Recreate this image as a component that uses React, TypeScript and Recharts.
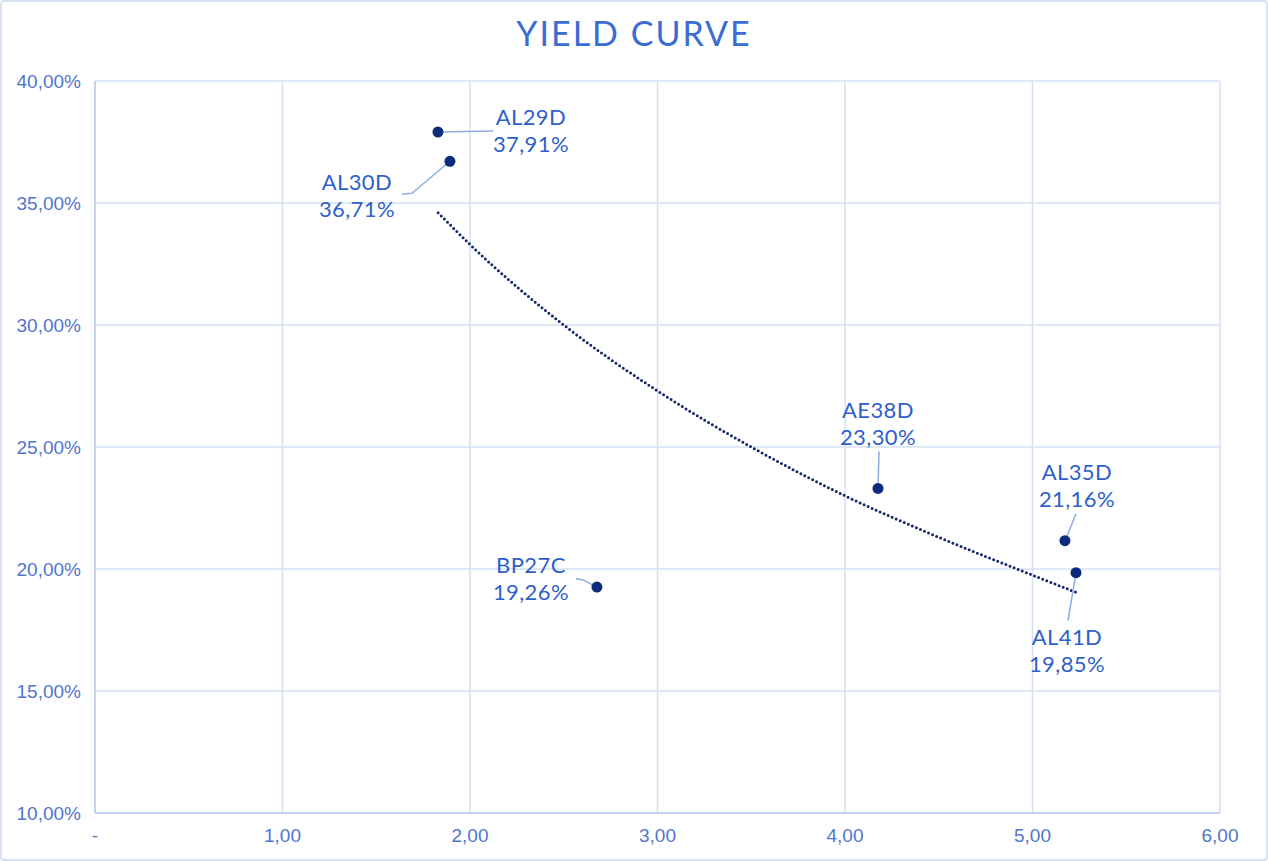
import React from "react";
import {
  ComposedChart,
  Scatter,
  Line,
  XAxis,
  YAxis,
  CartesianGrid,
} from "recharts";

// bonds: duration (x) vs yield % (y)
const bondNames = ["AL29D", "AL30D", "BP27C", "AE38D", "AL35D", "AL41D"];
const bondDuration = [1.829, 1.893, 2.677, 4.176, 5.173, 5.232];
const bondYield = [37.91, 36.71, 19.26, 23.3, 21.16, 19.85];

// dotted trend curve
const trendDuration = [1.83, 2.0, 2.5, 3.0, 3.5, 4.0, 4.5, 5.0, 5.23];
const trendYield = [34.6, 33.3, 30.0, 27.3, 25.0, 23.0, 21.3, 19.75, 19.05];

const xTicks = [0, 1, 2, 3, 4, 5, 6];
const yTicks = [10, 15, 20, 25, 30, 35, 40];

const bonds = bondNames.map((name, i) => ({
  name,
  x: bondDuration[i],
  y: bondYield[i],
}));
const trend = trendDuration.map((x, i) => ({ x, y: trendYield[i] }));

const TEXT_BLUE = "#2f5fcb";
const LEADER = "#8eaee2";
const DOT = "#0b2c7c";
const GRID = "#d5e0f3";
const AXIS = "#bccdee";

// label placement relative to each point: text centre + leader path
const labelLayout: Record<string, { dx: number; dy: number; leader: string }> = {
  AL29D: { dx: 93, dy: -16, leader: "M 0 0 L 55 -1" },
  AL30D: { dx: -93, dy: 20, leader: "M 0 0 L -38 32 L -48 33" },
  BP27C: { dx: -66, dy: -23, leader: "M -21 -8 Q -13 -8 -6 -3 L 0 0" },
  AE38D: { dx: 0, dy: -79, leader: "M 1 -37 L 0 0" },
  AL35D: { dx: 12, dy: -70, leader: "M 11 -27 L 1 -2" },
  AL41D: { dx: -9, dy: 63, leader: "M 0 0 L -8 48" },
};

const fmt = (v: number) => v.toFixed(2).replace(".", ",");

function BondPoint(props: any) {
  const { cx, cy, payload } = props;
  const l = labelLayout[payload.name];
  return (
    <g>
      <path
        d={l.leader}
        transform={`translate(${cx},${cy})`}
        fill="none"
        stroke={LEADER}
        strokeWidth={1.5}
      />
      <circle cx={cx} cy={cy} r={5.5} fill={DOT} />
      <text
        x={cx + l.dx}
        y={cy + l.dy}
        textAnchor="middle"
        dominantBaseline="central"
        fill={TEXT_BLUE}
        fontSize={22}
        letterSpacing={0.4}
        fontFamily="Lato, sans-serif"
      >
        <tspan x={cx + l.dx} dy={0}>
          {payload.name}
        </tspan>
        <tspan x={cx + l.dx} dy={27}>
          {fmt(payload.y) + "%"}
        </tspan>
      </text>
    </g>
  );
}

export default function App() {
  const tickStyle = {
    fontSize: 19,
    fill: "#5276cc",
    fontFamily: "'Liberation Sans', Arial, sans-serif",
  };
  return (
    <div
      style={{
        position: "absolute",
        left: 0,
        top: 0,
        width: 1268,
        height: 861,
        boxSizing: "border-box",
        border: "2px solid #d6e1f4",
        borderRadius: 4,
        background: "#fff",
      }}
    >
      <div
        style={{
          position: "absolute",
          top: 13,
          left: 0,
          width: "100%",
          textAlign: "center",
          fontFamily: "Lato, sans-serif",
          fontSize: 34,
          lineHeight: "36px",
          letterSpacing: 2,
          color: "#3b6cd4",
        }}
      >
        YIELD CURVE
      </div>
      <ComposedChart
        width={1264}
        height={857}
        margin={{ top: 79, right: 46, left: 13, bottom: 16 }}
      >
        <CartesianGrid stroke={GRID} strokeWidth={1.5} />
        <XAxis
          type="number"
          dataKey="x"
          domain={[0, 6]}
          ticks={xTicks}
          height={30}
          tickLine={false}
          tickSize={0}
          tickMargin={16}
          axisLine={{ stroke: AXIS, strokeWidth: 1.5 }}
          tick={tickStyle}
          tickFormatter={(v: number) => (v === 0 ? "-" : fmt(v))}
        />
        <YAxis
          type="number"
          dataKey="y"
          domain={[10, 40]}
          ticks={yTicks}
          width={80}
          tickLine={false}
          tickSize={0}
          tickMargin={14}
          axisLine={{ stroke: AXIS, strokeWidth: 1.5 }}
          tick={tickStyle}
          tickFormatter={(v: number) => fmt(v) + "%"}
        />
        <Line
          data={trend}
          dataKey="y"
          type="monotone"
          stroke="#15296a"
          strokeWidth={3}
          strokeDasharray="0 4.4"
          strokeLinecap="round"
          dot={false}
          activeDot={false}
          isAnimationActive={false}
        />
        <Scatter
          data={bonds}
          dataKey="y"
          shape={<BondPoint />}
          isAnimationActive={false}
        />
      </ComposedChart>
    </div>
  );
}
